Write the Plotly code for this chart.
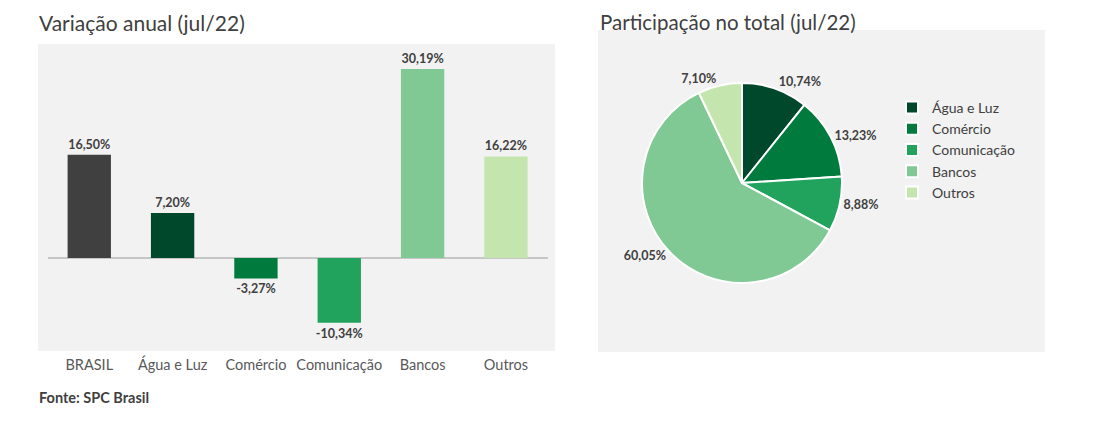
import plotly.graph_objects as go

# ---- data ----
bar_categories = ["BRASIL", "Água e Luz", "Comércio", "Comunicação", "Bancos", "Outros"]
bar_values = [16.50, 7.20, -3.27, -10.34, 30.19, 16.22]
bar_colors = ["#404040", "#00482b", "#007a3d", "#21a35d", "#80c995", "#c4e6ae"]

pie_labels = ["Água e Luz", "Comércio", "Comunicação", "Bancos", "Outros"]
pie_values = [10.74, 13.23, 8.88, 60.05, 7.10]
pie_colors = ["#00482b", "#007a3d", "#21a35d", "#80c995", "#c4e6ae"]

# page has an 8px body margin -> figure is drawn from page (8, 8)
OFF = 8
W, H = 1100 - OFF, 434 - OFF
FONT = "Lato"
TXT = "#404040"


def px(x):
    return (x - OFF) / W


def py(y):
    return 1 - (y - OFF) / H


fig = go.Figure()

fig.add_trace(go.Bar(
    x=bar_categories, y=bar_values,
    marker=dict(color=bar_colors, line=dict(width=0)),
    texttemplate="%{y:.2f}%", textposition="outside", constraintext="none",
    textfont=dict(family=FONT, size=12.5, color=TXT, weight="bold"),
    cliponaxis=False, showlegend=False, hoverinfo="skip",
))

fig.add_trace(go.Pie(
    labels=pie_labels, values=pie_values, sort=False, direction="clockwise",
    rotation=0,
    marker=dict(colors=pie_colors, line=dict(color="white", width=2)),
    texttemplate="%{value:.2f}%", textposition="outside",
    textfont=dict(family=FONT, size=12.5, color=TXT, weight="bold"),
    domain=dict(x=[px(642), px(842)], y=[py(283), py(83)]),
    automargin=False, hoverinfo="skip",
))

fig.update_layout(
    width=W, height=H,
    margin=dict(l=0, r=0, t=0, b=0),
    paper_bgcolor="white", plot_bgcolor="rgba(0,0,0,0)",
    separators=",.",
    bargap=0.48,
    font=dict(family=FONT, color=TXT),
    xaxis=dict(domain=[px(47.6), px(547.6)], showgrid=False, showline=False,
               ticks="outside", ticklen=1, tickcolor="rgba(0,0,0,0)",
               tickfont=dict(family=FONT, size=14.5, color="#595959"), fixedrange=True),
    yaxis=dict(domain=[py(351), py(44)], range=[-14.86, 34.19], showgrid=False,
               showticklabels=False, zeroline=True, zerolinecolor="#c6c6c6",
               zerolinewidth=2, fixedrange=True),
    legend=dict(x=px(892), y=py(92), xanchor="left", yanchor="top",
                font=dict(family=FONT, size=14, color=TXT),
                bgcolor="rgba(0,0,0,0)", tracegroupgap=0, itemwidth=30),
    shapes=[
        dict(type="rect", xref="paper", yref="paper", x0=px(38), x1=px(555),
             y0=py(351), y1=py(44), fillcolor="#f2f2f2", line=dict(width=0), layer="below"),
        dict(type="rect", xref="paper", yref="paper", x0=px(598), x1=px(1045),
             y0=py(352), y1=py(30), fillcolor="#f2f2f2", line=dict(width=0), layer="below"),
    ],
    annotations=[
        dict(text="Variação anual (jul/22)", xref="paper", yref="paper",
             x=px(37), y=py(22), xanchor="left", yanchor="middle", showarrow=False,
             font=dict(family=FONT, size=21, color=TXT)),
        dict(text="Participação no total (jul/22)", xref="paper", yref="paper",
             x=px(598), y=1, xanchor="left", yanchor="top", showarrow=False,
             font=dict(family=FONT, size=20.5, color=TXT)),
        dict(text="<b>Fonte: SPC Brasil</b>", xref="paper", yref="paper",
             x=px(37), y=py(397), xanchor="left", yanchor="middle", showarrow=False,
             font=dict(family=FONT, size=14.5, color=TXT)),
    ],
)

fig.write_html("out.html")
